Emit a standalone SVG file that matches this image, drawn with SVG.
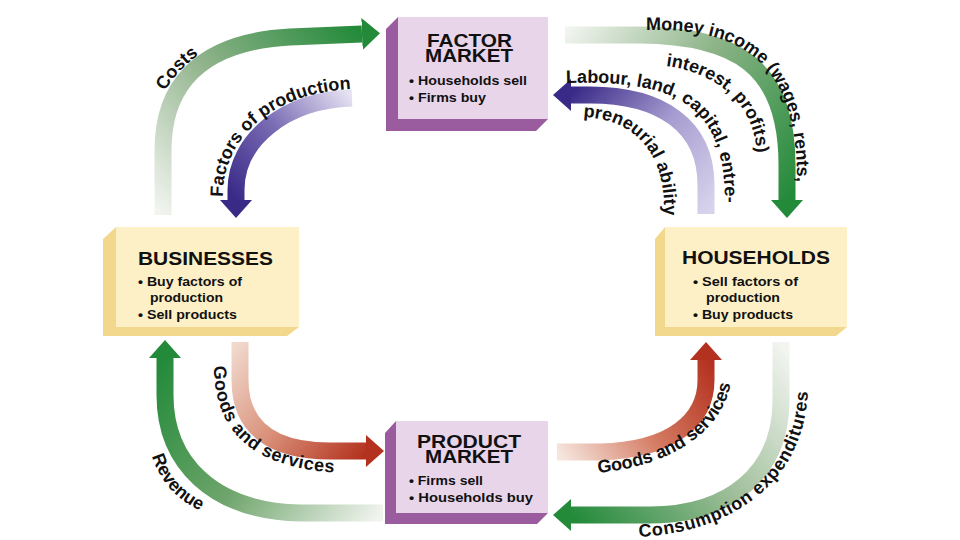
<svg xmlns="http://www.w3.org/2000/svg" xmlns:xlink="http://www.w3.org/1999/xlink" width="960" height="540" viewBox="0 0 960 540">
<style>
.band{fill:none;stroke-width:17;stroke-linecap:butt}
.lbl{font-family:"Liberation Sans",Arial,sans-serif;font-weight:bold;font-size:18px;fill:#111}
.wide{letter-spacing:0.6px}
.title{font-family:"Liberation Sans",Arial,sans-serif;font-weight:bold;font-size:19px;fill:#111}
.item{font-family:"Liberation Sans",Arial,sans-serif;font-weight:bold;font-size:13.5px;fill:#111}
.mface{fill:#e8d5e9}
.mside{fill:#9a5c9f}
.hface{fill:#fdf0c6}
.hside{fill:#f2d88c}
</style>
<defs>
<marker id="hGreen" markerUnits="userSpaceOnUse" markerWidth="18" markerHeight="32" viewBox="0 0 18 32" refX="0" refY="16" orient="auto"><path d="M0,0 L18,16 L0,32 Z" fill="#238a3a"/></marker>
<marker id="hPurple" markerUnits="userSpaceOnUse" markerWidth="18" markerHeight="32" viewBox="0 0 18 32" refX="0" refY="16" orient="auto"><path d="M0,0 L18,16 L0,32 Z" fill="#3a2a88"/></marker>
<marker id="hRed" markerUnits="userSpaceOnUse" markerWidth="18" markerHeight="32" viewBox="0 0 18 32" refX="0" refY="16" orient="auto"><path d="M0,0 L18,16 L0,32 Z" fill="#b3321f"/></marker>
<linearGradient id="gCosts" gradientUnits="userSpaceOnUse" x1="163" y1="215" x2="362" y2="35"><stop offset="0" stop-color="#f1f4ef"/><stop offset="0.5" stop-color="#8fb28a"/><stop offset="1" stop-color="#238a3a"/></linearGradient>
<linearGradient id="gFop" gradientUnits="userSpaceOnUse" x1="352" y1="97" x2="236" y2="200"><stop offset="0" stop-color="#e6e2f2"/><stop offset="0.5" stop-color="#7a6cb4"/><stop offset="1" stop-color="#3a2a88"/></linearGradient>
<linearGradient id="gMoney" gradientUnits="userSpaceOnUse" x1="565" y1="35" x2="787" y2="203"><stop offset="0" stop-color="#f1f4ef"/><stop offset="0.45" stop-color="#8db488"/><stop offset="1" stop-color="#238a3a"/></linearGradient>
<linearGradient id="gLabour" gradientUnits="userSpaceOnUse" x1="706" y1="214" x2="570" y2="95"><stop offset="0" stop-color="#d8d3ec"/><stop offset="0.5" stop-color="#a69cd0"/><stop offset="1" stop-color="#3a2a88"/></linearGradient>
<linearGradient id="gGood1" gradientUnits="userSpaceOnUse" x1="240" y1="342" x2="368" y2="451"><stop offset="0" stop-color="#f0d8cc"/><stop offset="0.5" stop-color="#d98f78"/><stop offset="1" stop-color="#b3321f"/></linearGradient>
<linearGradient id="gRev" gradientUnits="userSpaceOnUse" x1="382" y1="512" x2="165" y2="355"><stop offset="0" stop-color="#f1f4ef"/><stop offset="0.5" stop-color="#6fa56c"/><stop offset="1" stop-color="#238a3a"/></linearGradient>
<linearGradient id="gGood2" gradientUnits="userSpaceOnUse" x1="558" y1="452" x2="706" y2="355"><stop offset="0" stop-color="#f6e6de"/><stop offset="0.5" stop-color="#d47a62"/><stop offset="1" stop-color="#b3321f"/></linearGradient>
<linearGradient id="gCons" gradientUnits="userSpaceOnUse" x1="781" y1="342" x2="570" y2="515"><stop offset="0" stop-color="#f3f5f1"/><stop offset="0.5" stop-color="#9dbd98"/><stop offset="1" stop-color="#238a3a"/></linearGradient>
<path id="tCosts" d="M165,91 C174,76 187,61 209,48 L234,36"/>
<path id="tFop" d="M223,197 C222,140 270,93 352,89 L380,89"/>
<path id="tMoney" d="M646,30 C740,28 797,60 797,180 L797,220"/>
<path id="tInterest" d="M666,66 C713,72 750,100 756,145 L758,170"/>
<path id="tLabour" d="M566,83 C670,80 724,100 725,200 L725,230"/>
<path id="tPren" d="M583,117 C632,119 663,150 664,205 L664,230"/>
<path id="tGood1" d="M214,366 C214,432 252,470 345,473 L380,473"/>
<path id="tRev" d="M152,456 C163,490 185,507 220,518 L240,522"/>
<path id="tGood2" d="M598,473 C672,466 729,430 732,372 L732,340"/>
<path id="tCons" d="M639,537 C735,532 806,480 808,388 L808,360"/>
</defs>

<g id="connectors">
<path class="band" stroke="url(#gCosts)" d="M163,215 L163,150 C163,90 195,42 290,37 L362,34" marker-end="url(#hGreen)"/>
<path class="band" stroke="url(#gFop)" d="M352,98 C285,100 236,140 236,190 L236,200" marker-end="url(#hPurple)"/>
<path class="band" stroke="url(#gMoney)" d="M565,35 L640,35 C735,36 787,65 787,165 L787,200" marker-end="url(#hGreen)"/>
<path class="band" stroke="url(#gLabour)" d="M706,214 L706,185 C706,125 660,95 590,95 L571,95" marker-end="url(#hPurple)"/>
<path class="band" stroke="url(#gGood1)" d="M240,342 L240,380 C240,428 272,451 330,451 L366,451" marker-end="url(#hRed)"/>
<path class="band" stroke="url(#gRev)" d="M383,513 L300,513 C212,511 165,462 165,395 L165,358" marker-end="url(#hGreen)"/>
<path class="band" stroke="url(#gGood2)" d="M557,452 L600,452 C672,450 706,420 706,380 L706,360" marker-end="url(#hRed)"/>
<path class="band" stroke="url(#gCons)" d="M781,342 L781,400 C781,472 730,515 650,515 L571,515" marker-end="url(#hGreen)"/>
<text class="lbl"><textPath xlink:href="#tCosts">Costs</textPath></text>
<text class="lbl"><textPath xlink:href="#tFop">Factors of production</textPath></text>
<text class="lbl"><textPath xlink:href="#tMoney">Money income (wages, rents,</textPath></text>
<text class="lbl" font-size="16"><textPath xlink:href="#tInterest">interest, profits)</textPath></text>
<text class="lbl"><textPath xlink:href="#tLabour">Labour, land, capital, entre-</textPath></text>
<text class="lbl" font-size="17"><textPath xlink:href="#tPren">preneurial ability</textPath></text>
<text class="lbl wide"><textPath xlink:href="#tGood1">Goods and services</textPath></text>
<text class="lbl"><textPath xlink:href="#tRev">Revenue</textPath></text>
<text class="lbl"><textPath xlink:href="#tGood2">Goods and services</textPath></text>
<text class="lbl wide"><textPath xlink:href="#tCons">Consumption expenditures</textPath></text>
</g>

<g id="factor-market">
<path class="mside" d="M398,17 L386,29 L386,131 L536,131 L548,119 L398,119 Z"/>
<rect class="mface" x="398" y="17" width="150" height="102"/>
<text class="title" x="427" y="47" textLength="85" lengthAdjust="spacingAndGlyphs">FACTOR</text>
<text class="title" x="425" y="62" textLength="88" lengthAdjust="spacingAndGlyphs">MARKET</text>
<text class="item" x="409" y="85" textLength="118" lengthAdjust="spacingAndGlyphs">• Households sell</text>
<text class="item" x="409" y="102" textLength="77" lengthAdjust="spacingAndGlyphs">• Firms buy</text>
</g>

<g id="businesses">
<path class="hside" d="M116,227 L103,239 L103,336 L287,336 L299,327 L116,327 Z"/>
<rect class="hface" x="116" y="227" width="183" height="100"/>
<text class="title" x="138" y="265" textLength="135" lengthAdjust="spacingAndGlyphs">BUSINESSES</text>
<text class="item" x="138" y="286" textLength="104" lengthAdjust="spacingAndGlyphs">• Buy factors of</text>
<text class="item" x="150" y="302" textLength="73" lengthAdjust="spacingAndGlyphs">production</text>
<text class="item" x="138" y="319" textLength="99" lengthAdjust="spacingAndGlyphs">• Sell products</text>
</g>

<g id="households">
<path class="hside" d="M665,227 L655,239 L655,336 L836,336 L847,327 L665,327 Z"/>
<rect class="hface" x="665" y="227" width="182" height="100"/>
<text class="title" x="682" y="264" textLength="148" lengthAdjust="spacingAndGlyphs">HOUSEHOLDS</text>
<text class="item" x="693" y="286" textLength="105" lengthAdjust="spacingAndGlyphs">• Sell factors of</text>
<text class="item" x="706" y="302" textLength="74" lengthAdjust="spacingAndGlyphs">production</text>
<text class="item" x="693" y="319" textLength="100" lengthAdjust="spacingAndGlyphs">• Buy products</text>
</g>

<g id="product-market">
<path class="mside" d="M396,421 L385,433 L385,524 L537,524 L548,513 L396,513 Z"/>
<rect class="mface" x="396" y="421" width="152" height="92"/>
<text class="title" x="417" y="448" textLength="104" lengthAdjust="spacingAndGlyphs">PRODUCT</text>
<text class="title" x="425" y="463" textLength="88" lengthAdjust="spacingAndGlyphs">MARKET</text>
<text class="item" x="409" y="485" textLength="74" lengthAdjust="spacingAndGlyphs">• Firms sell</text>
<text class="item" x="409" y="502" textLength="124" lengthAdjust="spacingAndGlyphs">• Households buy</text>
</g>
</svg>
